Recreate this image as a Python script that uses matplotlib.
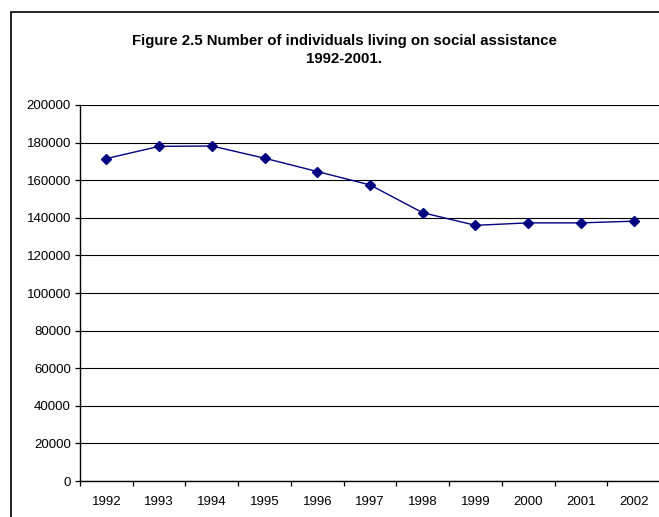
import matplotlib
matplotlib.use("Agg")
import matplotlib.pyplot as plt
from matplotlib.patches import Rectangle
import numpy as np

plt.rcParams['font.family'] = ['Liberation Sans', 'DejaVu Sans']

# data
years = ['1992', '1993', '1994', '1995', '1996', '1997',
         '1998', '1999', '2000', '2001', '2002']
individuals = [171500, 178000, 178200, 171700, 164600, 157500,
               142700, 136000, 137300, 137300, 138200]
y_ticks = [0, 20000, 40000, 60000, 80000, 100000,
           120000, 140000, 160000, 180000, 200000]

title = 'Figure 2.5 Number of individuals living on social assistance\n1992-2001.'

W, H = 659, 517
fig = plt.figure(figsize=(W / 100, H / 100), dpi=100)
fig.patch.set_facecolor('white')

# outer chart border (right and bottom edges fall outside the picture)
fig.patches.append(Rectangle((11 / W, -0.1), 1.2, 1 - 12 / H + 0.1,
                             transform=fig.transFigure, fill=False,
                             edgecolor='black', linewidth=1.2))

ax = fig.add_axes([80 / W, 1 - 481 / H, 580 / W, 376 / H])
x = np.arange(len(years))
ax.plot(x, individuals, color='#000080', linewidth=1.0,
        marker='D', markersize=5, zorder=3)

ax.set_xlim(-0.5, len(years) - 0.5)
ax.set_ylim(0, 200000)
ax.set_yticks(y_ticks)
ax.set_yticklabels([str(v) for v in y_ticks])
ax.yaxis.grid(True, color='black', linewidth=0.8)
ax.set_axisbelow(True)

ax.set_xticks(x)
ax.set_xticklabels(years)
ax.set_xticks(np.arange(-0.5, len(years), 1.0), minor=True)
ax.tick_params(axis='x', which='major', length=0, pad=10.5, labelsize=9.5)
ax.tick_params(axis='x', which='minor', length=3.6, width=0.9, direction='out')
ax.tick_params(axis='y', length=3.6, width=0.9, pad=3, labelsize=9.5)

for side in ['top', 'right']:
    ax.spines[side].set_visible(False)
for side in ['left', 'bottom']:
    ax.spines[side].set_linewidth(1.0)

fig.text(344 / W, 1 - 50 / H, title, ha='center', va='center',
         fontsize=10.8, fontweight='bold', multialignment='center',
         linespacing=1.35)

fig.savefig('out.png', dpi=100)
